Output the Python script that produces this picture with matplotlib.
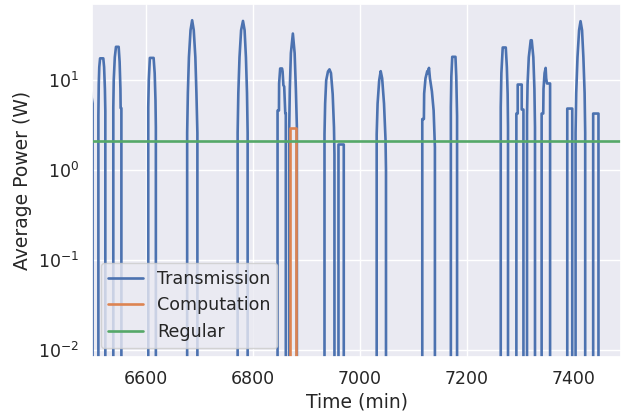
import matplotlib
matplotlib.use("Agg")
import matplotlib.pyplot as plt
import seaborn as sns

# Transmission power trace (min, W); 0 = idle
trans_time = [
    6490, 6501, 6501,
    6511.8, 6511.8, 6512.5, 6513.5, 6515, 6521, 6522.5, 6524, 6524.8, 6524.8,
    6539.7, 6539.7, 6540.5, 6542.5, 6544.7, 6549.7, 6551.5, 6553, 6553.4, 6554.8, 6554.8,
    6605, 6605, 6606, 6608, 6615, 6617, 6618.5, 6619.2, 6619.2,
    6677.7, 6677.7, 6679, 6681, 6684, 6687, 6690, 6693, 6695, 6696.8, 6696.8,
    6772, 6772, 6773.3, 6775.5, 6778.5, 6782, 6785, 6787.5, 6789.5, 6790.7, 6790.7,
    6846.6, 6846.6, 6849.2, 6849.5, 6851.5, 6855, 6856, 6857.5, 6859, 6861, 6862, 6862,
    6868.4, 6868.4, 6869.5, 6871.5, 6875.2, 6878.5, 6880.8, 6882.7, 6882.7,
    6934.3, 6934.3, 6935.5, 6937.5, 6940.8, 6943.6, 6946.4, 6949.6, 6952, 6952.9, 6952.9,
    6960.4, 6960.4, 6970.3, 6970.3,
    7031.8, 7031.8, 7033.5, 7036.5, 7039.3, 7042, 7045.5, 7048.3, 7049.2, 7049.2,
    7117, 7117, 7120, 7120.5, 7123, 7126.3, 7127.5, 7129.5, 7131.3, 7135, 7138.2, 7140.6, 7140.6,
    7170.4, 7170.4, 7171.3, 7173, 7179, 7180.5, 7182, 7182,
    7263.6, 7263.6, 7264.8, 7267.3, 7273, 7275, 7276.5, 7277.2, 7277.2,
    7292.8, 7292.8, 7295.3, 7295.3, 7302.8, 7302.8, 7306, 7306,
    7312.7, 7312.7, 7313.7, 7316, 7319.6, 7321.5, 7324.5, 7326.5, 7327.6, 7327.6,
    7340, 7340, 7343, 7343.5, 7345.5, 7347.5, 7348.5, 7350, 7355.8, 7355.8,
    7387.9, 7387.9, 7397.2, 7397.2,
    7403.4, 7403.4, 7404.6, 7407, 7410, 7412.7, 7415.5, 7418, 7420.3, 7421.4, 7421.4,
    7436.3, 7436.3, 7446.2, 7446.2,
]
trans_power = [
    15, 5.5, 0,
    0, 4, 9, 14, 17.5, 17.5, 14, 8, 4.5, 0,
    0, 5, 10, 18, 23.5, 23.5, 16, 8, 4.9, 4.9, 0,
    0, 5, 10, 17.7, 17.7, 12, 6, 3, 0,
    0, 2.6, 7.2, 18, 36, 46.4, 36, 18, 7.2, 2.6, 0,
    0, 2.6, 7.2, 18, 36, 45.6, 36, 18, 7.2, 2.6, 0,
    0, 4.6, 4.6, 9.2, 13.5, 13.5, 12.5, 8.8, 8.5, 4.3, 4.3, 0,
    0, 3, 8, 20, 33, 20, 8, 3, 0,
    0, 2.5, 5.5, 10, 12.5, 13.2, 12, 7, 3, 1.5, 0,
    0, 1.93, 1.93, 0,
    0, 2.5, 5.5, 10, 12.6, 10.5, 5.5, 2.2, 1, 0,
    0, 3.7, 3.7, 7.1, 10.5, 12.6, 12, 13.7, 10.5, 7.5, 4.6, 1.8, 0,
    0, 5, 11, 18.2, 18.2, 11, 4, 0,
    0, 5, 12, 23.1, 23.1, 14, 7, 3, 0,
    0, 4.26, 4.26, 8.95, 8.95, 4.72, 4.72, 0,
    0, 4, 9, 18, 27.8, 27.8, 18, 8, 3, 0,
    0, 4.26, 4.26, 8, 12, 13.7, 10.5, 9.2, 9.2, 0,
    0, 4.84, 4.84, 0,
    0, 2.6, 7.2, 18, 36, 45.3, 36, 18, 7.2, 2.6, 0,
    0, 4.26, 4.26, 0,
]

# Computation power (only one job in this window)
comp_time = [6500, 6870.3, 6870.3, 6880.8, 6880.8, 7490]
comp_power = [0, 0, 2.98, 2.98, 0, 0]

# Regular (baseline) power
reg_time = [6400, 7600]
reg_power = [2.12, 2.12]

sns.set_theme(style="darkgrid")
plt.rcParams['font.family'] = ['DejaVu Sans']

fig, ax = plt.subplots(figsize=(6.22, 4.17), dpi=100)
fig.subplots_adjust(left=0.148, right=0.999, top=0.99, bottom=0.144)

ax.plot(trans_time, trans_power, label="Transmission", color="#4C72B0", linewidth=1.9)
ax.plot(comp_time, comp_power, label="Computation", color="#DD8452", linewidth=1.9)
ax.plot(reg_time, reg_power, label="Regular", color="#55A868", linewidth=1.9)

ax.set_yscale("log")
ax.set_xlim(6500, 7489)
ax.set_ylim(0.0084, 70)
ax.set_xticks([6600, 6800, 7000, 7200, 7400])
ax.tick_params(labelsize=12.5)

ax.set_xlabel("Time (min)", fontsize=13.5, labelpad=3)
ax.set_ylabel("Average Power (W)", fontsize=13.5)
ax.legend(loc="lower left", fontsize=12.6)

fig.savefig("out.png", dpi=100)
